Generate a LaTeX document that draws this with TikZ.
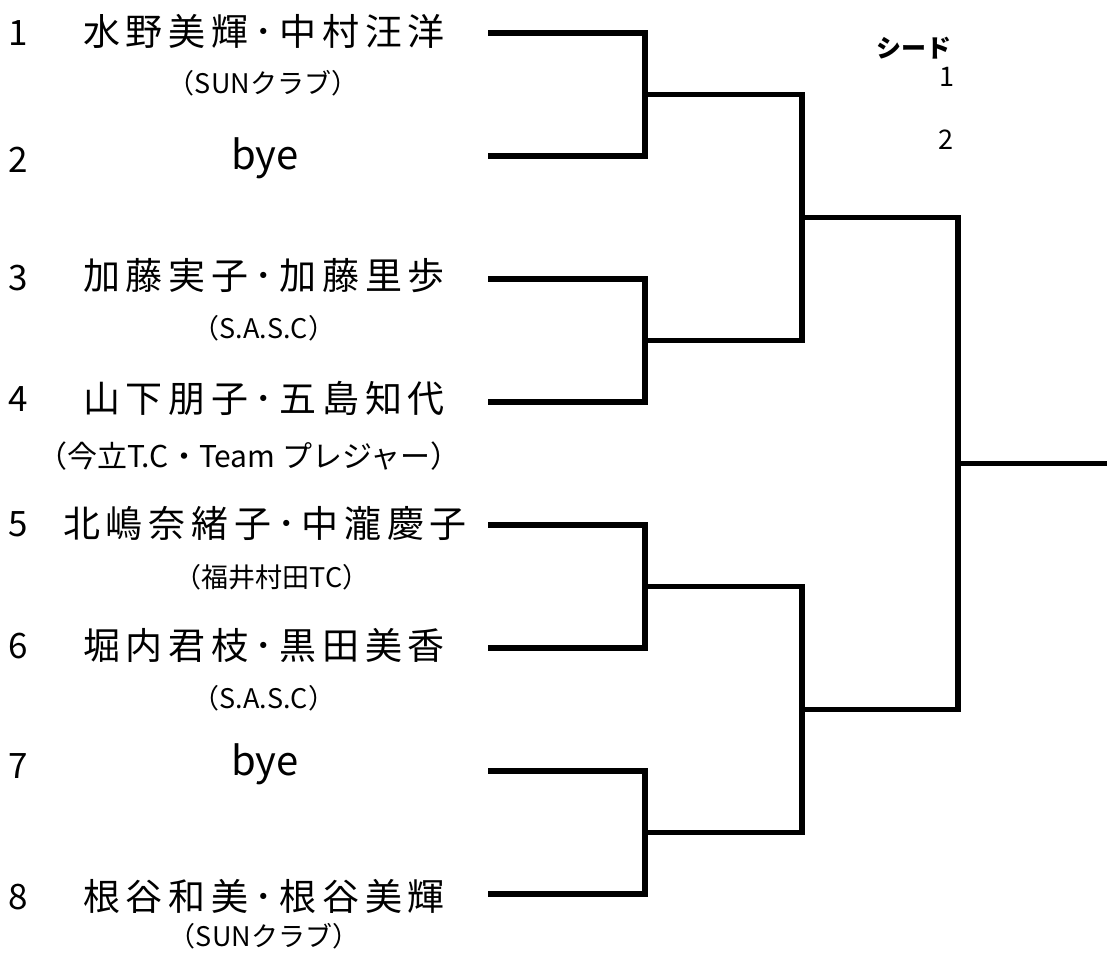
\documentclass[tikz,border=0pt]{standalone}
\usepackage{fontspec}
\setmainfont{Noto Sans CJK JP}
\tikzset{
  bline/.style={line width=5.5pt, line join=miter, line cap=butt},
  namefont/.style={inner sep=0pt, font=\fontsize{37}{37}\selectfont},
  subfont/.style={inner sep=0pt, font=\fontsize{27}{27}\selectfont},
  numfont/.style={inner sep=0pt, font=\fontsize{35}{35}\selectfont},
  byefont/.style={inner sep=0pt, font=\fontsize{40}{40}\selectfont},
  seedfont/.style={inner sep=0pt, font=\fontsize{27}{27}\selectfont},
}
\begin{document}
\begin{tikzpicture}[x=1pt,y=-1pt]
\useasboundingbox (0,0) rectangle (1107,956);
% entry numbers
\node[numfont] (k1) at (18,33) {1};
\node[numfont] (k2) at (18,160) {2};
\node[numfont] (k3) at (18,278) {3};
\node[numfont] (k4) at (18,399) {4};
\node[numfont] (k5) at (18,524) {5};
\node[numfont] (k6) at (18,646) {6};
\node[numfont] (k7) at (18,766) {7};
\node[numfont] (k8) at (18,897) {8};
% names
\node[namefont] (n1) at (264,31) {\makebox[362pt][s]{水\hfill 野\hfill 美\hfill 輝\hfill ･\hfill 中\hfill 村\hfill 汪\hfill 洋}};
\node[subfont] (c1) at (263,83) {（SUNクラブ）};
\node[byefont] (n2) at (265,158) {bye};
\node[namefont] (n3) at (264,276) {\makebox[362pt][s]{加\hfill 藤\hfill 実\hfill 子\hfill ･\hfill 加\hfill 藤\hfill 里\hfill 歩}};
\node[subfont] (c3) at (264,328) {（S.A.S.C）};
\node[namefont] (n4) at (264,398) {\makebox[362pt][s]{山\hfill 下\hfill 朋\hfill 子\hfill ･\hfill 五\hfill 島\hfill 知\hfill 代}};
\node[inner sep=0pt, font=\fontsize{30}{30}\selectfont] (c4) at (249,456) {（今立T.C・Team プレジャー）};
\node[namefont] (n5) at (265,523) {\makebox[404pt][s]{北\hfill 嶋\hfill 奈\hfill 緒\hfill 子\hfill ･\hfill 中\hfill 瀧\hfill 慶\hfill 子}};
\node[subfont] (c5) at (272,577) {（福井村田TC）};
\node[namefont] (n6) at (264,645) {\makebox[362pt][s]{堀\hfill 内\hfill 君\hfill 枝\hfill ･\hfill 黒\hfill 田\hfill 美\hfill 香}};
\node[subfont] (c6) at (264,698) {（S.A.S.C）};
\node[byefont] (n7) at (265,764) {bye};
\node[namefont] (n8) at (264,896) {\makebox[362pt][s]{根\hfill 谷\hfill 和\hfill 美\hfill ･\hfill 根\hfill 谷\hfill 美\hfill 輝}};
\node[subfont] (c8) at (264,936) {（SUNクラブ）};
% seeds
\node[inner sep=0pt, font=\fontsize{25}{25}\selectfont\bfseries] (seed) at (914,48) {シード};
\node[seedfont] (s1) at (947,77) {1};
\node[seedfont] (s2) at (946,140) {2};
% bracket coordinates
\coordinate (p1) at (488,33);
\coordinate (p2) at (488,156);
\coordinate (p3) at (488,279);
\coordinate (p4) at (488,402);
\coordinate (p5) at (488,525);
\coordinate (p6) at (488,648);
\coordinate (p7) at (488,771);
\coordinate (p8) at (488,894);
\coordinate (q12) at (645,94.5);
\coordinate (q34) at (645,340.5);
\coordinate (q56) at (645,586.5);
\coordinate (q78) at (645,832.5);
\coordinate (r14) at (802,217.5);
\coordinate (r58) at (802,709.5);
\coordinate (f) at (958,463.5);
\coordinate (w) at (1107,463.5);
% brackets
\draw[bline] (p1) -| (q12) |- (p2);
\draw[bline] (p3) -| (q34) |- (p4);
\draw[bline] (p5) -| (q56) |- (p6);
\draw[bline] (p7) -| (q78) |- (p8);
\draw[bline] (q12) -| (r14) |- (q34);
\draw[bline] (q56) -| (r58) |- (q78);
\draw[bline] (r14) -| (f) |- (r58);
\draw[bline] (f) -- (w);
\end{tikzpicture}
\end{document}
